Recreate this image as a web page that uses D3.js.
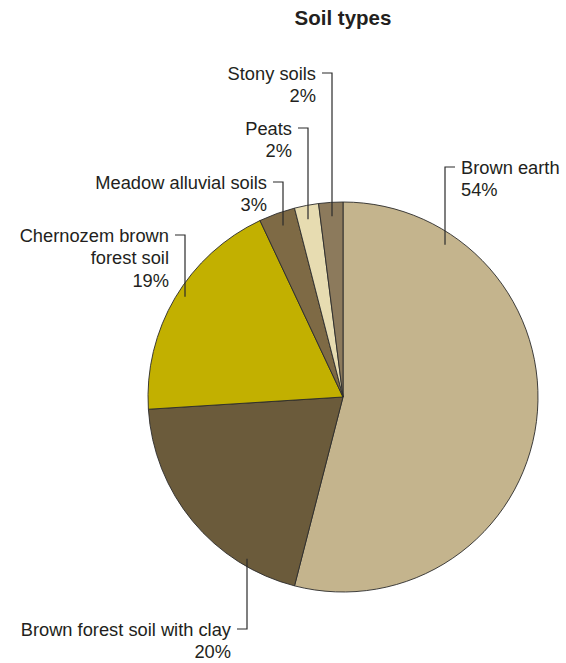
<!DOCTYPE html>
<html>
<head>
<meta charset="utf-8">
<script src="https://cdn.jsdelivr.net/npm/d3@7"></script>
<style>
  body { margin: 0; background: #fff; }
  text { font-family: "Liberation Sans", Arial, sans-serif; fill: #231f20; }
</style>
</head>
<body>
<svg width="566" height="663"></svg>
<script>
const categories = ["Brown earth", "Brown forest soil with clay", "Chernozem brown forest soil", "Meadow alluvial soils", "Peats", "Stony soils"]
const values = [54, 20, 19, 3, 2, 2]
const labelLines = [["Brown earth"], ["Brown forest soil with clay"], ["Chernozem brown", "forest soil"], ["Meadow alluvial soils"], ["Peats"], ["Stony soils"]]
const colors = ["#c4b48d", "#6b5b3b", "#c2b000", "#7e6a45", "#e7dcb1", "#8c7a5c"]

const svg = d3.select("svg")
const width = +svg.attr("width")
const cx = 343, cy = 397
const radius = 195

svg.append("text")
    .attr("x", cx)
    .attr("y", 25)
    .attr("text-anchor", "middle")
    .attr("font-weight", "bold")
    .style("font-size", "20.5px")
    .text("Soil types")

const pie = d3.pie().sort(null).value(d => d)
const arc = d3.arc().innerRadius(0).outerRadius(radius)

const g = svg.append("g").attr("transform", `translate(${cx}, ${cy})`)

g.selectAll("path")
    .data(pie(values))
    .join("path")
    .attr("d", arc)
    .attr("fill", (d, i) => colors[i])
    .attr("stroke", "#2b2b2b")
    .attr("stroke-width", 0.9)

// leader layout: line x, tick y, side of label
const layout = [
    { x: 445, y: 167, side: "right" },
    { x: 247, y: 629, side: "left" },
    { x: 185, y: 235, side: "left" },
    { x: 283, y: 182, side: "left" },
    { x: 308, y: 128, side: "left" },
    { x: 332, y: 73, side: "left" }
]
const lineH = 22.5

layout.forEach((L, i) => {
    const dx = L.x - cx
    const dy = Math.sqrt(radius * radius - dx * dx)
    const below = L.y > cy
    const endY = below ? cy + dy - 8 : cy - dy + 14
    const tickX = L.side === "right" ? L.x + 10 : L.x - 10

    svg.append("path")
        .attr("d", `M${tickX},${L.y}H${L.x}V${endY}`)
        .attr("fill", "none")
        .attr("stroke", "#2b2b2b")
        .attr("stroke-width", 1.2)

    const lines = labelLines[i].concat([values[i] + "%"])
    const t = svg.append("text")
        .attr("text-anchor", L.side === "right" ? "start" : "end")
        .style("font-size", "18.3px")
    lines.forEach((s, j) => {
        t.append("tspan")
            .attr("x", L.side === "right" ? L.x + 16 : L.x - 16)
            .attr("y", L.y + 6.5 + j * lineH)
            .text(s)
    })
})
</script>
</body>
</html>
